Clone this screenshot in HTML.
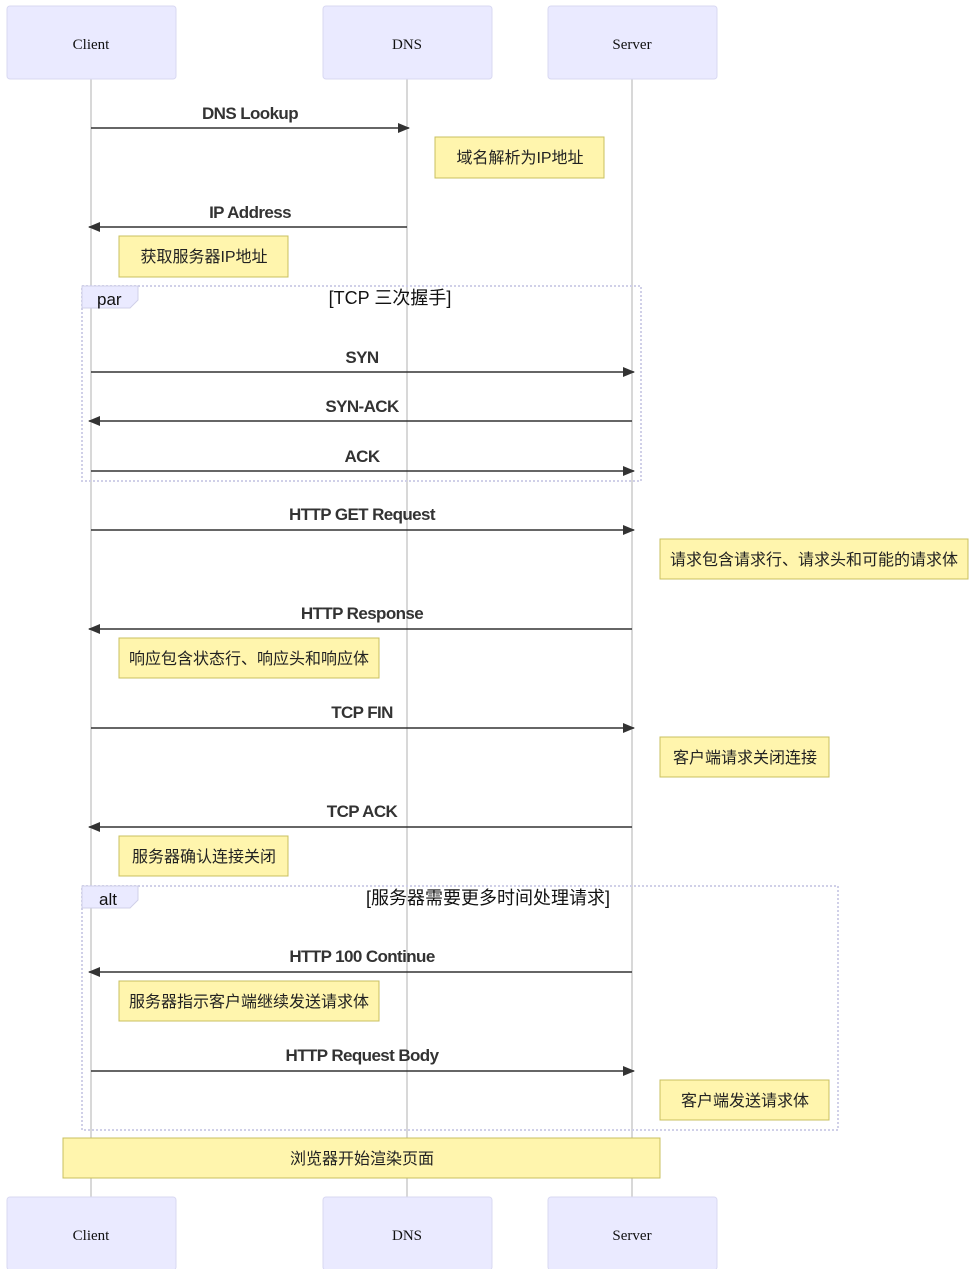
<!DOCTYPE html>
<html><head><meta charset="utf-8"><style>
html,body{margin:0;padding:0;background:#fff;}
svg{display:block;}
.actor{fill:#eaeaff;stroke:#d8d8f2;stroke-width:1;}
.at{font-family:"Liberation Serif",serif;font-size:15px;fill:#111;text-anchor:middle;}
.life{stroke:#b0b0b0;stroke-width:1;}
.msg{stroke:#333;stroke-width:1.5;}
.ml{font-family:"Liberation Sans","Noto Sans CJK SC",sans-serif;font-size:17px;font-weight:bold;fill:#333;text-anchor:middle;letter-spacing:-0.6px;}
.note{fill:#fff5ad;stroke:#c8c060;stroke-width:1;}
.nt{font-family:"Liberation Sans","Noto Sans CJK SC",sans-serif;font-size:16px;fill:#222;text-anchor:middle;}
.box{fill:none;stroke:#d0d0e8;stroke-width:2;stroke-dasharray:2,2;}
.lab{fill:#eaeaff;stroke:#d0d0e8;stroke-width:1;}
.lt{font-family:"Liberation Sans","Noto Sans CJK SC",sans-serif;font-size:17px;fill:#111;}
.bt{font-family:"Liberation Sans","Noto Sans CJK SC",sans-serif;font-size:18px;fill:#111;text-anchor:middle;}
</style></head><body>
<svg width="975" height="1269" viewBox="0 0 975 1269" xmlns="http://www.w3.org/2000/svg">
<defs><marker id="ar" markerWidth="12" markerHeight="10" refX="11" refY="5" orient="auto" markerUnits="userSpaceOnUse"><path d="M0,0 L12,5 L0,10 z" fill="#333"/></marker></defs>
<line class="life" x1="91" y1="79" x2="91" y2="1197"/>
<line class="life" x1="407" y1="79" x2="407" y2="1197"/>
<line class="life" x1="632" y1="79" x2="632" y2="1197"/>
<rect class="actor" x="7" y="6" width="169" height="73" rx="3"/><text class="at" x="91" y="49">Client</text>
<rect class="actor" x="323" y="6" width="169" height="73" rx="3"/><text class="at" x="407" y="49">DNS</text>
<rect class="actor" x="548" y="6" width="169" height="73" rx="3"/><text class="at" x="632" y="49">Server</text>
<rect class="actor" x="7" y="1197" width="169" height="73" rx="3"/><text class="at" x="91" y="1240">Client</text>
<rect class="actor" x="323" y="1197" width="169" height="73" rx="3"/><text class="at" x="407" y="1240">DNS</text>
<rect class="actor" x="548" y="1197" width="169" height="73" rx="3"/><text class="at" x="632" y="1240">Server</text>

<text class="ml" x="250" y="119">DNS Lookup</text><line class="msg" x1="91" y1="128" x2="409" y2="128" marker-end="url(#ar)"/>
<rect class="note" x="435" y="137" width="169" height="41"/><text class="nt" x="520" y="163">域名解析为IP地址</text>
<text class="ml" x="250" y="218">IP Address</text><line class="msg" x1="407" y1="227" x2="89" y2="227" marker-end="url(#ar)"/>
<rect class="note" x="119" y="236" width="169" height="41"/><text class="nt" x="204" y="262">获取服务器IP地址</text>

<rect class="box" x="82" y="286" width="559" height="195"/>
<path class="lab" d="M82,286 H138 V300 L130,308 H82 Z"/><text class="lt" x="97" y="305">par</text>
<text class="bt" x="390" y="304">[TCP 三次握手]</text>
<text class="ml" x="362" y="363">SYN</text><line class="msg" x1="91" y1="372" x2="634" y2="372" marker-end="url(#ar)"/>
<text class="ml" x="362" y="412">SYN-ACK</text><line class="msg" x1="632" y1="421" x2="89" y2="421" marker-end="url(#ar)"/>
<text class="ml" x="362" y="462">ACK</text><line class="msg" x1="91" y1="471" x2="634" y2="471" marker-end="url(#ar)"/>

<text class="ml" x="362" y="520">HTTP GET Request</text><line class="msg" x1="91" y1="530" x2="634" y2="530" marker-end="url(#ar)"/>
<rect class="note" x="660" y="539" width="308" height="40"/><text class="nt" x="814" y="565">请求包含请求行、请求头和可能的请求体</text>
<text class="ml" x="362" y="619">HTTP Response</text><line class="msg" x1="632" y1="629" x2="89" y2="629" marker-end="url(#ar)"/>
<rect class="note" x="119" y="638" width="260" height="40"/><text class="nt" x="249" y="664">响应包含状态行、响应头和响应体</text>
<text class="ml" x="362" y="718">TCP FIN</text><line class="msg" x1="91" y1="728" x2="634" y2="728" marker-end="url(#ar)"/>
<rect class="note" x="660" y="737" width="169" height="40"/><text class="nt" x="745" y="763">客户端请求关闭连接</text>
<text class="ml" x="362" y="817">TCP ACK</text><line class="msg" x1="632" y1="827" x2="89" y2="827" marker-end="url(#ar)"/>
<rect class="note" x="119" y="836" width="169" height="40"/><text class="nt" x="204" y="862">服务器确认连接关闭</text>

<rect class="box" x="82" y="886" width="756" height="244"/>
<path class="lab" d="M82,886 H138 V900 L130,908 H82 Z"/><text class="lt" x="99" y="905">alt</text>
<text class="bt" x="488" y="904">[服务器需要更多时间处理请求]</text>
<text class="ml" x="362" y="962">HTTP 100 Continue</text><line class="msg" x1="632" y1="972" x2="89" y2="972" marker-end="url(#ar)"/>
<rect class="note" x="119" y="981" width="260" height="40"/><text class="nt" x="249" y="1007">服务器指示客户端继续发送请求体</text>
<text class="ml" x="362" y="1061">HTTP Request Body</text><line class="msg" x1="91" y1="1071" x2="634" y2="1071" marker-end="url(#ar)"/>
<rect class="note" x="660" y="1080" width="169" height="40"/><text class="nt" x="745" y="1106">客户端发送请求体</text>

<rect class="note" x="63" y="1138" width="597" height="40"/><text class="nt" x="362" y="1164">浏览器开始渲染页面</text>
</svg>
</body></html>
